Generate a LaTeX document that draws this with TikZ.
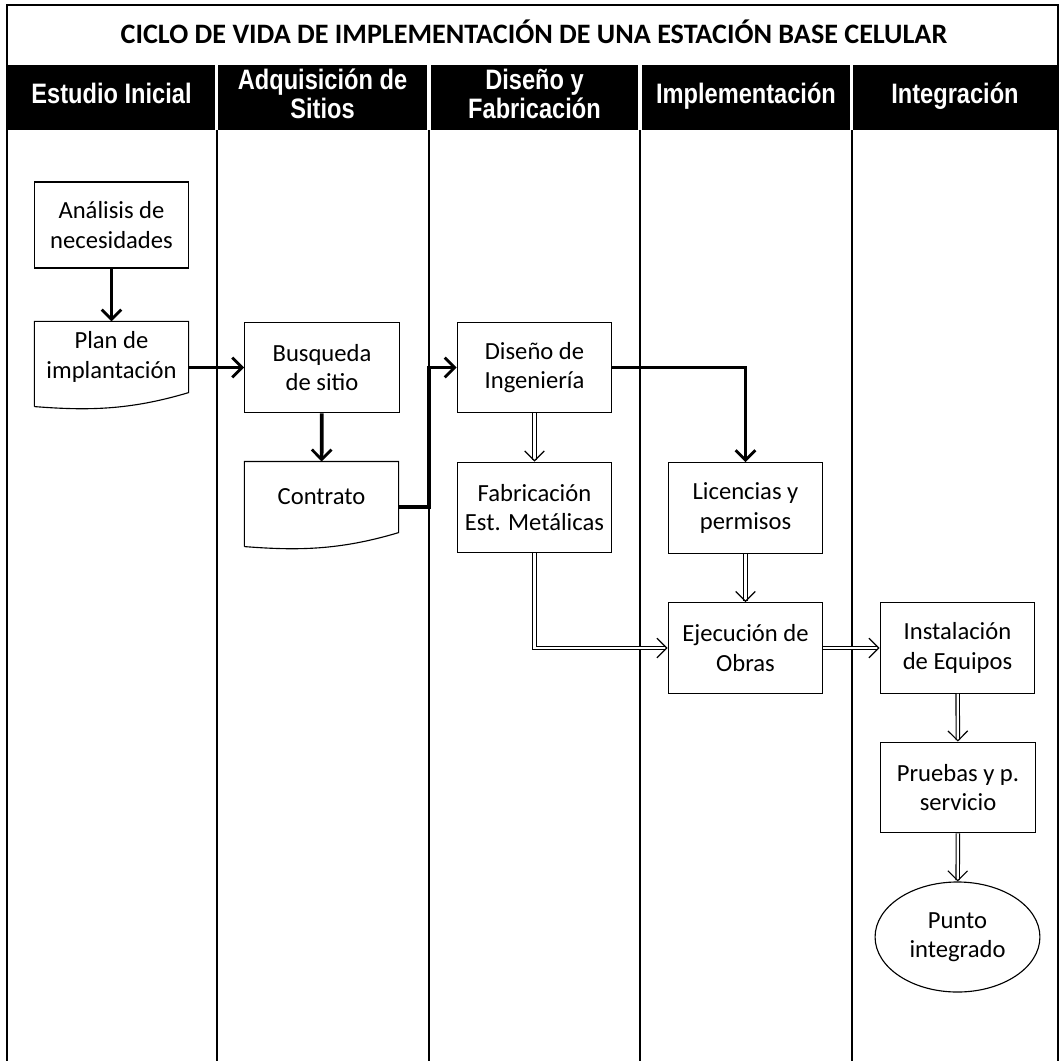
\documentclass[tikz,border=0pt]{standalone}
\usepackage{fontspec}
\usepackage{graphicx}
\setmainfont{Carlito}
\newfontfamily\cabecera{Liberation Sans}
\usetikzlibrary{shapes,arrows.meta}
\tikzstyle{caja} = [rectangle, draw=black, thick, text centered, align=center, minimum width=3.87cm, minimum height=2.27cm, font=\fontsize{17.5}{21}\selectfont]
\tikzstyle{doc} = [caja, draw=none, minimum width=3.83cm, minimum height=1.75cm]
\tikzstyle{titulo col} = [rectangle, fill=black, text=white, align=center, inner sep=0pt, minimum height=1.62cm, font=\cabecera\bfseries\fontsize{20}{19.5}\selectfont]
\tikzstyle{flecha} = [line width=2.6pt, -{Straight Barb[length=7pt,width=14pt,line width=2pt]}]
\tikzstyle{flecha hueca} = [line width=0.8pt, double=white, double distance=1.6pt, -{Straight Barb[length=7pt,width=14pt]}]
\newcommand{\angosto}[1]{\scalebox{0.84}[1]{\begin{tabular}{@{}c@{}}#1\end{tabular}}}
\newcommand{\documento}[1]{\draw[thick] ([yshift=-0.35cm]#1.south west) -- (#1.north west) -- (#1.north east) -- (#1.south east) .. controls +(-1.5cm,-0.45cm) and +(1.3cm,-0.1cm) .. ([yshift=-0.35cm]#1.south west);}

\begin{document}
\begin{tikzpicture}[x=0.025cm, y=-0.025cm]
    \useasboundingbox (0,0) rectangle (1060,1061);
    % marco y carriles
    \draw[thick] (7,1061) -- (7,5) -- (1058,5) -- (1058,1061);
    \node (tit) [anchor=base, font=\bfseries\fontsize{20}{24}\selectfont] at (534,43) {CICLO DE VIDA DE IMPLEMENTACIÓN DE UNA ESTACIÓN BASE CELULAR};
    \node (h1) [titulo col, minimum width=5.18cm] at (111.5,97.5) {\angosto{Estudio Inicial}};
    \node (h2) [titulo col, minimum width=5.22cm] at (322.5,97.5) {\angosto{Adquisición de\\Sitios}};
    \node (h3) [titulo col, minimum width=5.18cm] at (534.5,97.5) {\angosto{Diseño y\\Fabricación}};
    \node (h4) [titulo col, minimum width=5.2cm] at (746,97.5) {\angosto{Implementación}};
    \node (h5) [titulo col, minimum width=5.1cm] at (955,97.5) {\angosto{Integración}};
    \foreach \xc in {217,429,640,852}
        \draw[thick] (\xc,130) -- (\xc,1061);

    % actividades
    \node (ana) [caja, minimum width=3.83cm, minimum height=2.15cm] at (111.5,225) {Análisis de\\necesidades};
    \node (plan) [doc] at (111.5,357) {Plan de\\implantación};
    \node (bus) [caja] at (322,367.5) {Busqueda\\de sitio};
    \node (con) [doc] at (321.5,497) {Contrato};
    \node (dis) [caja] at (534.5,367.5) {Diseño de\\Ingeniería};
    \node (fab) [caja] at (534.5,507.5) {Fabricación\\Est. Metálicas};
    \node (lic) [caja] at (745.5,508) {Licencias y\\permisos};
    \node (eje) [caja] at (745.5,648) {Ejecución de\\Obras};
    \node (ins) [caja] at (957.5,648) {Instalación\\de Equipos};
    \node (pru) [caja] at (958,787.5) {Pruebas y p.\\servicio};
    \node (pun) [ellipse, draw=black, thick, align=center, minimum width=4.12cm, minimum height=2.75cm, font=\fontsize{17.5}{21}\selectfont] at (957.5,937) {Punto\\integrado};
    \documento{plan}
    \documento{con}

    % conexiones
    \coordinate (c1) at (429,507);
    \draw[flecha] (ana) -- (plan);
    \draw[flecha] (plan.east |- bus.west) -- (bus.west);
    \draw[flecha] (bus) -- (con);
    \draw[flecha] (con.east |- c1) -- (c1) |- (dis.west);
    \draw[flecha] (dis.east) -| (lic.north);
    \draw[flecha hueca] (dis) -- (fab);
    \draw[flecha hueca] (fab.south) |- (eje.west);
    \draw[flecha hueca] (lic) -- (eje);
    \draw[flecha hueca] (eje) -- (ins);
    \draw[flecha hueca] (ins) -- (pru);
    \draw[flecha hueca] (pru) -- (pun);
\end{tikzpicture}
\end{document}
